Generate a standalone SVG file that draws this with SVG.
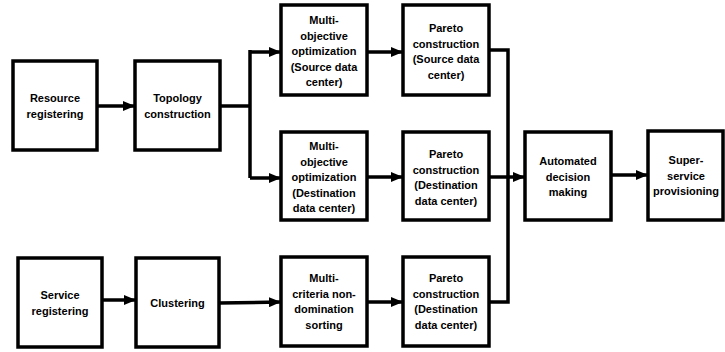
<svg xmlns="http://www.w3.org/2000/svg" width="725" height="352" viewBox="0 0 725 352">
<style>
.box{fill:#fff;stroke:#000;stroke-width:3.5}
.t{font-family:"Liberation Sans",Arial,sans-serif;font-weight:bold;font-size:11px;text-anchor:middle;fill:#000}
.c{fill:none;stroke:#000;stroke-width:3.5}
</style>
<defs>
<marker id="ah" markerUnits="userSpaceOnUse" markerWidth="12" markerHeight="10" refX="11" refY="5" orient="auto">
<path d="M0,0 L12,5 L0,10 Z" fill="#000"/>
</marker>
</defs>
<g id="connectors">
<path class="c" d="M97,106 H134" marker-end="url(#ah)"/>
<path class="c" d="M220,106 H250"/>
<path class="c" d="M250,50 V178"/>
<path class="c" d="M250,52 H280" marker-end="url(#ah)"/>
<path class="c" d="M250,178 H280" marker-end="url(#ah)"/>
<path class="c" d="M367,52 H402" marker-end="url(#ah)"/>
<path class="c" d="M367,177 H402" marker-end="url(#ah)"/>
<path class="c" d="M102,300 H135" marker-end="url(#ah)"/>
<path class="c" d="M219,303 L280,302" marker-end="url(#ah)"/>
<path class="c" d="M367,302 H402" marker-end="url(#ah)"/>
<path class="c" d="M489,50 H508 V302 H489"/>
<path class="c" d="M489,177 H524" marker-end="url(#ah)"/>
<path class="c" d="M611,175 H647" marker-end="url(#ah)"/>
</g>
<g id="resource">
<rect class="box" x="13" y="61" width="84" height="89"/>
<text class="t" x="55" y="102">Resource<tspan x="55" dy="16">registering</tspan></text>
</g>
<g id="topology">
<rect class="box" x="135" y="61" width="85" height="89"/>
<text class="t" x="177.5" y="102">Topology<tspan x="177.5" dy="16">construction</tspan></text>
</g>
<g id="moo-source">
<rect class="box" x="281" y="5" width="86" height="90"/>
<text class="t" x="324" y="24">Multi-<tspan x="324" dy="15.5">objective</tspan><tspan x="324" dy="15.5">optimization</tspan><tspan x="324" dy="15.5">(Source data</tspan><tspan x="324" dy="15.5">center)</tspan></text>
</g>
<g id="pareto-source">
<rect class="box" x="403" y="5" width="86" height="90"/>
<text class="t" x="446" y="32">Pareto<tspan x="446" dy="15.5">construction</tspan><tspan x="446" dy="15.5">(Source data</tspan><tspan x="446" dy="15.5">center)</tspan></text>
</g>
<g id="moo-dest">
<rect class="box" x="281" y="132" width="86" height="88"/>
<text class="t" x="324" y="150">Multi-<tspan x="324" dy="15.5">objective</tspan><tspan x="324" dy="15.5">optimization</tspan><tspan x="324" dy="15.5">(Destination</tspan><tspan x="324" dy="15.5">data center)</tspan></text>
</g>
<g id="pareto-dest">
<rect class="box" x="403" y="132" width="86" height="88"/>
<text class="t" x="446" y="158">Pareto<tspan x="446" dy="15.5">construction</tspan><tspan x="446" dy="15.5">(Destination</tspan><tspan x="446" dy="15.5">data center)</tspan></text>
</g>
<g id="service">
<rect class="box" x="18" y="258" width="84" height="89"/>
<text class="t" x="60" y="299">Service<tspan x="60" dy="16">registering</tspan></text>
</g>
<g id="clustering">
<rect class="box" x="136" y="258" width="83" height="89"/>
<text class="t" x="177.5" y="307">Clustering</text>
</g>
<g id="mcnds">
<rect class="box" x="281" y="257" width="86" height="89"/>
<text class="t" x="324" y="282">Multi-<tspan x="324" dy="15.5">criteria non-</tspan><tspan x="324" dy="15.5">domination</tspan><tspan x="324" dy="15.5">sorting</tspan></text>
</g>
<g id="pareto-dest2">
<rect class="box" x="403" y="257" width="86" height="89"/>
<text class="t" x="446" y="282">Pareto<tspan x="446" dy="15.5">construction</tspan><tspan x="446" dy="15.5">(Destination</tspan><tspan x="446" dy="15.5">data center)</tspan></text>
</g>
<g id="decision">
<rect class="box" x="525" y="132" width="86" height="88"/>
<text class="t" x="568" y="165">Automated<tspan x="568" dy="15.5">decision</tspan><tspan x="568" dy="15.5">making</tspan></text>
</g>
<g id="super">
<rect class="box" x="648" y="131" width="75" height="89"/>
<text class="t" x="686" y="164">Super-<tspan x="686" dy="15.5">service</tspan><tspan x="686" dy="15.5">provisioning</tspan></text>
</g>
</svg>
